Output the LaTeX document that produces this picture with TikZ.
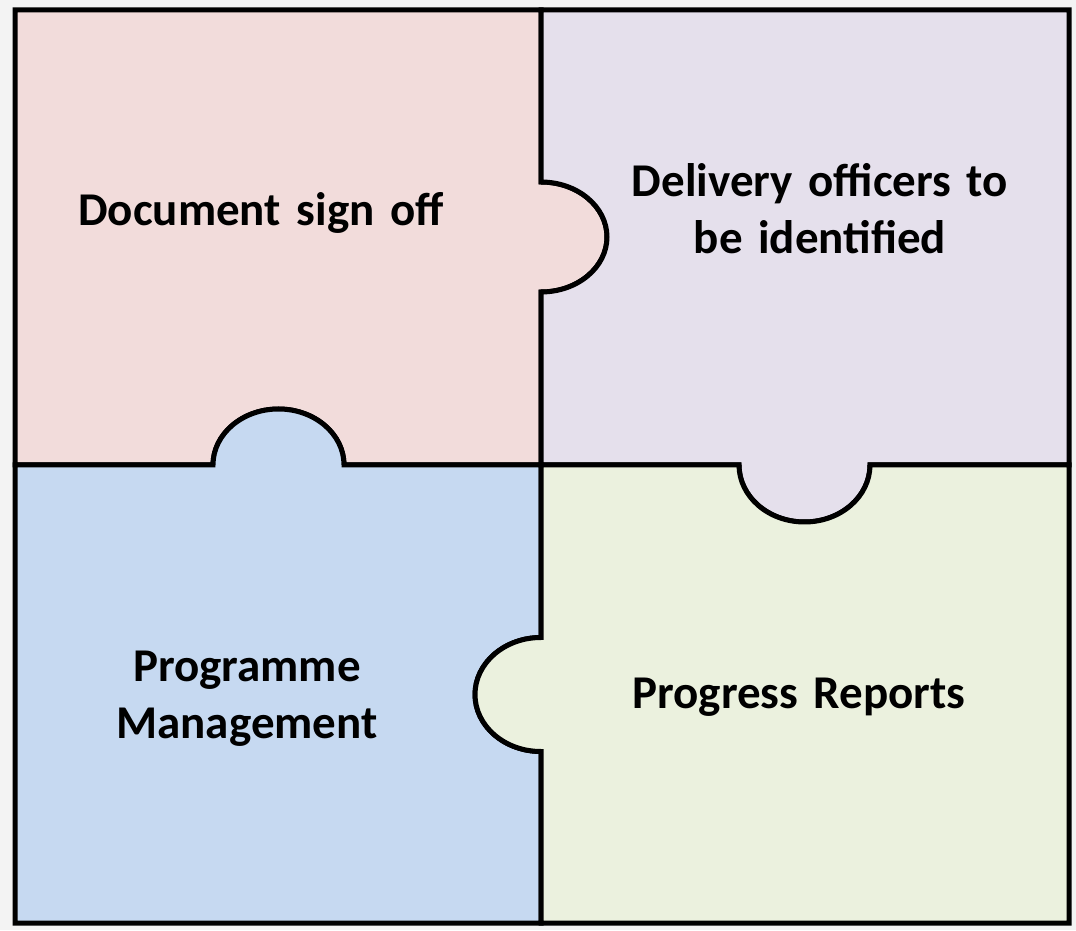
\documentclass[tikz,border=0pt]{standalone}
\usepackage{fontspec}
\setmainfont{Carlito}
\usepackage{tikz}

\definecolor{pinkpiece}{HTML}{F2DCDB}
\definecolor{lilacpiece}{HTML}{E5E0EC}
\definecolor{bluepiece}{HTML}{C6D9F1}
\definecolor{greenpiece}{HTML}{EBF1DE}
\definecolor{backgray}{HTML}{F3F3F3}

\tikzset{
  piece/.style={draw=black, line width=5pt, line join=miter},
  label/.style={text width=480pt, align=center, font=\bfseries\fontsize{47}{57}\selectfont}
}

\begin{document}
\begin{tikzpicture}[x=1pt,y=1pt]
\fill[backgray] (0,0) rectangle (1076,930);
\useasboundingbox (0,0) rectangle (1076,930);

% top left
\path[piece, fill=pinkpiece] (15,920) -- (541,920) -- (541,748) arc (90:-90:66 and 55)
  -- (541,465) -- (344,465) arc (0:180:65.5 and 56) -- (15,465) -- cycle;
% top right
\path[piece, fill=lilacpiece] (541,920) -- (1069,920) -- (1069,465) -- (870,465)
  arc (0:-180:65.5 and 57) -- (541,465) -- (541,638) arc (-90:90:66 and 55) -- cycle;
% bottom left
\path[piece, fill=bluepiece] (15,465) -- (213,465) arc (180:0:65.5 and 56) -- (541,465)
  -- (541,292.5) arc (90:270:66 and 57) -- (541,7) -- (15,7) -- cycle;
% bottom right
\path[piece, fill=greenpiece] (541,465) -- (739,465) arc (180:360:65.5 and 57) -- (1069,465)
  -- (1069,7) -- (541,7) -- (541,178.5) arc (270:90:66 and 57) -- cycle;

\node (signoff) [label] at (261,717) {Document sign off};
\node (officers) [label] at (820,721) {Delivery officers to\\be identified};
\node (programme) [label] at (247,231) {Programme\\Management};
\node (reports) [label] at (799,233) {Progress Reports};

\end{tikzpicture}
\end{document}
